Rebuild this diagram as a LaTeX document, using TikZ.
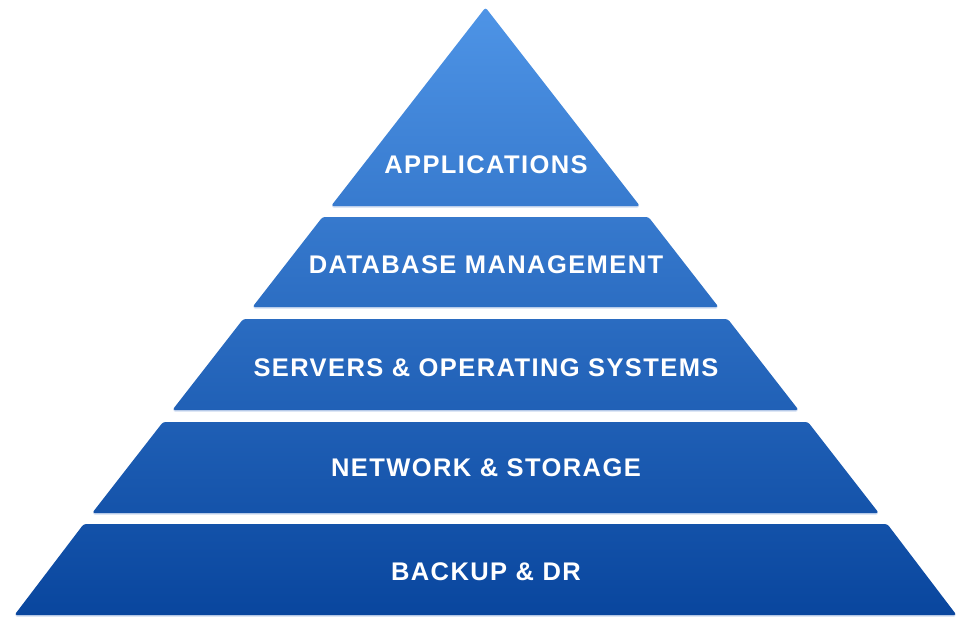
\documentclass[tikz,border=0pt]{standalone}
\usepackage{fontspec}
\setmainfont{Liberation Sans}
\newfontfamily\labelfont[LetterSpace=5.5]{Liberation Sans}
\definecolor{pyrtop}{RGB}{78,148,230}
\definecolor{pyrmid}{RGB}{44,110,198}
\definecolor{pyrbot}{RGB}{9,70,158}
\definecolor{shadowblue}{RGB}{205,218,240}
\begin{document}
\begin{tikzpicture}[x=1pt,y=-1pt,
  bandlabel/.style={text=white,font=\labelfont\bfseries\fontsize{25.5}{25.5}\selectfont,inner sep=0pt,anchor=center},
  bandfill/.style={top color=pyrtop,middle color=pyrmid,bottom color=pyrbot,rounded corners=2.5pt},
  bandshadow/.style={fill=shadowblue,rounded corners=2.5pt}]
\useasboundingbox (0,0) rectangle (974,635);
% shadows
\path[bandshadow,yshift=-1.5pt]
  (485.5,7.5) -- (639.9,206) -- (331.1,206) -- cycle
  (322.5,217) -- (648.5,217) -- (718.5,307) -- (252.5,307) -- cycle
  (243.2,319) -- (727.8,319) -- (798.6,410) -- (172.4,410) -- cycle
  (163.0,422) -- (808.0,422) -- (878.8,513) -- (92.2,513) -- cycle
  (83.7,524) -- (887.3,524) -- (956.5,615) -- (14.5,615) -- cycle;
% pyramid bands
\path[bandfill]
  (485.5,7.5) -- (639.9,206) -- (331.1,206) -- cycle
  (322.5,217) -- (648.5,217) -- (718.5,307) -- (252.5,307) -- cycle
  (243.2,319) -- (727.8,319) -- (798.6,410) -- (172.4,410) -- cycle
  (163.0,422) -- (808.0,422) -- (878.8,513) -- (92.2,513) -- cycle
  (83.7,524) -- (887.3,524) -- (956.5,615) -- (14.5,615) -- cycle;
% labels
\node[bandlabel] (apps) at (486,165) {APPLICATIONS};
\node[bandlabel] (db) at (486,265) {DATABASE MANAGEMENT};
\node[bandlabel] (srv) at (486,368) {SERVERS \& OPERATING SYSTEMS};
\node[bandlabel] (net) at (486,468) {NETWORK \& STORAGE};
\node[bandlabel] (bak) at (486,572) {BACKUP \& DR};
\end{tikzpicture}
\end{document}
